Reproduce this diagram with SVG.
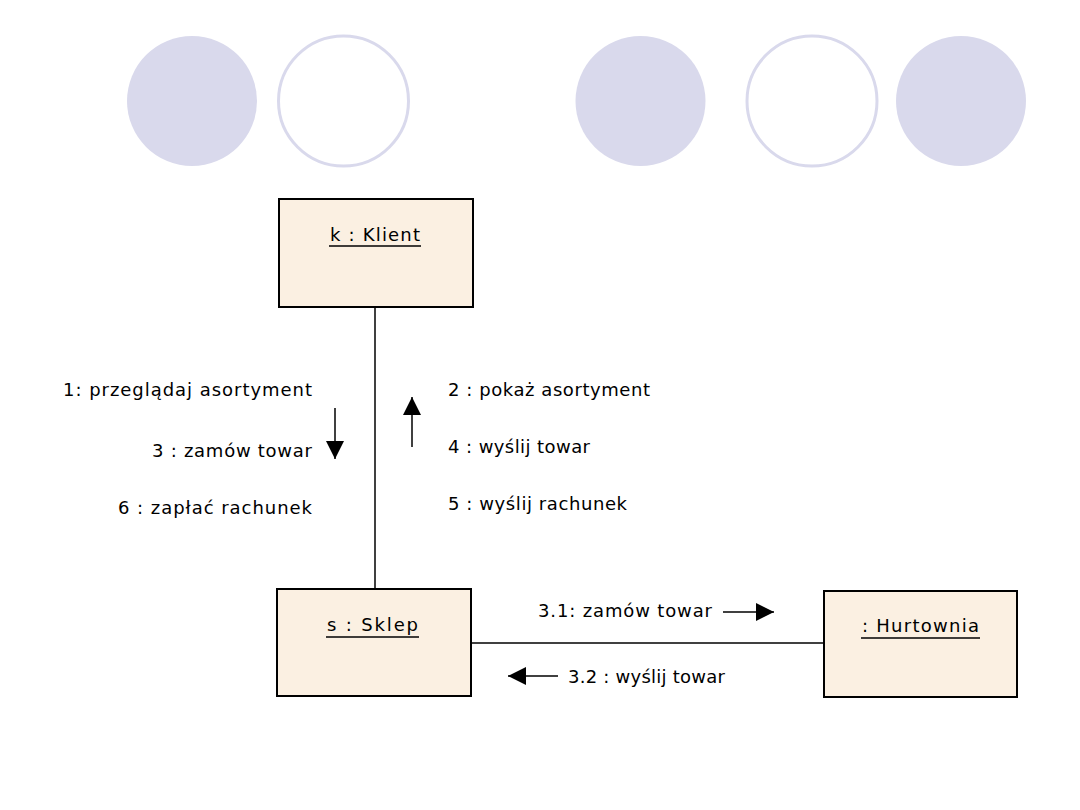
<svg xmlns="http://www.w3.org/2000/svg" width="1080" height="810" viewBox="0 0 1080 810">
<style>
.dot{fill:#D9D9EC}
.ring{fill:#fff;stroke:#D9D9EC;stroke-width:3}
.box{fill:#FBF0E2;stroke:#000;stroke-width:2}
.t{font-family:"DejaVu Sans","Liberation Sans",Arial,sans-serif;font-size:18px;fill:#000}
.ul{stroke:#000;stroke-width:1.5}
.ln{stroke:#000;stroke-width:1.5;fill:none}
</style>
<defs>
<marker id="ahb" viewBox="0 0 20 20" refX="20" refY="10" markerWidth="21" markerHeight="18" markerUnits="userSpaceOnUse" orient="auto">
<path d="M0,0 L20,10 L0,20 Z" fill="#000"/>
</marker>
</defs>
<g id="decor">
<circle class="dot" cx="192" cy="101" r="65"/>
<circle class="ring" cx="343.5" cy="101" r="65"/>
<circle class="dot" cx="640.5" cy="101" r="65"/>
<circle class="ring" cx="812" cy="101" r="65"/>
<circle class="dot" cx="961" cy="101" r="65"/>
</g>
<g id="connectors">
<line class="ln" x1="375" y1="307" x2="375" y2="589"/>
<line class="ln" x1="471" y1="643" x2="824" y2="643"/>
<line class="ln" x1="335" y1="408" x2="335" y2="459" marker-end="url(#ahb)"/>
<line class="ln" x1="412" y1="447" x2="412" y2="397" marker-end="url(#ahb)"/>
<line class="ln" x1="723" y1="612" x2="774" y2="612" marker-end="url(#ahb)"/>
<line class="ln" x1="558" y1="676" x2="508" y2="676" marker-end="url(#ahb)"/>
<text class="t" x="63" y="396" textLength="249" lengthAdjust="spacing">1: przeglądaj asortyment</text>
<text class="t" x="152" y="457" textLength="160" lengthAdjust="spacing">3 : zamów towar</text>
<text class="t" x="118" y="514" textLength="194" lengthAdjust="spacing">6 : zapłać rachunek</text>
<text class="t" x="448" y="396" textLength="202" lengthAdjust="spacing">2 : pokaż asortyment</text>
<text class="t" x="448" y="453" textLength="142" lengthAdjust="spacing">4 : wyślij towar</text>
<text class="t" x="448" y="510" textLength="179" lengthAdjust="spacing">5 : wyślij rachunek</text>
<text class="t" x="538" y="617" textLength="174" lengthAdjust="spacing">3.1: zamów towar</text>
<text class="t" x="568" y="683" textLength="157" lengthAdjust="spacing">3.2 : wyślij towar</text>
</g>
<g id="klient">
<rect class="box" x="279" y="199" width="194" height="108"/>
<text class="t" x="330" y="241" textLength="90" lengthAdjust="spacing">k : Klient</text>
<line class="ul" x1="329" y1="246" x2="421" y2="246"/>
</g>
<g id="sklep">
<rect class="box" x="277" y="589" width="194" height="107"/>
<text class="t" x="327" y="631" textLength="91" lengthAdjust="spacing">s : Sklep</text>
<line class="ul" x1="326" y1="637" x2="419" y2="637"/>
</g>
<g id="hurtownia">
<rect class="box" x="824" y="591" width="193" height="106"/>
<text class="t" x="862" y="632" textLength="117" lengthAdjust="spacing">: Hurtownia</text>
<line class="ul" x1="861" y1="638" x2="980" y2="638"/>
</g>
</svg>
